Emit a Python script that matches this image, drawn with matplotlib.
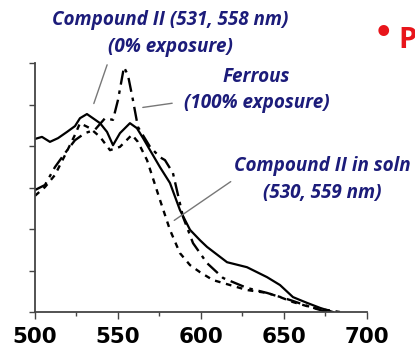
import matplotlib.pyplot as plt

# wavelength (nm) / absorbance (arb.)
wl_solid = [500, 504.2, 509, 513.9, 519.3, 524.1, 527.1, 531.3, 534.9, 539.2, 543.4, 547,
            551.2, 557.2, 561.4, 565.1, 569.3, 575.3, 581.3, 587.3, 593.4, 599.4, 603.6,
            615.7, 627.7, 639.8, 647.6, 655.4, 659.6, 663.9, 671.7, 679.5]
ab_solid = [4.17, 4.22, 4.10, 4.19, 4.34, 4.48, 4.67, 4.77, 4.67, 4.55, 4.34, 4.02,
            4.31, 4.55, 4.43, 4.19, 3.90, 3.49, 3.11, 2.46, 1.98, 1.73, 1.57,
            1.20, 1.08, 0.84, 0.65, 0.36, 0.29, 0.22, 0.10, 0.0]

wl_soln = [500, 506, 512, 518.1, 524.1, 527.1, 533.1, 539.2, 545.2, 551.2, 558.4, 562,
           567.5, 575.3, 581.3, 587.3, 593.4, 599.4, 607.2, 617.5, 627.7, 639.8, 647.6,
           655.4, 667.5, 683.7]
ab_soln = [2.80, 3.01, 3.30, 3.78, 4.27, 4.55, 4.43, 4.22, 3.90, 3.98, 4.27, 4.10,
           3.66, 2.70, 1.98, 1.42, 1.13, 0.96, 0.77, 0.65, 0.53, 0.46, 0.36,
           0.24, 0.10, 0.0]

wl_ferrous = [500, 506, 512, 518.1, 524.1, 530.1, 536.1, 542.2, 547, 550, 553.6, 556,
              559, 562, 569.3, 575.3, 578.3, 583.1, 589.2, 595.2, 603.6, 613.3, 627.7,
              639.8, 653.6, 667.5, 675.9]
ab_ferrous = [2.94, 3.06, 3.49, 3.83, 4.14, 4.31, 4.39, 4.67, 4.63, 5.11, 5.90, 5.71,
              5.11, 4.46, 3.98, 3.73, 3.66, 3.35, 2.29, 1.66, 1.18, 0.82, 0.58,
              0.46, 0.29, 0.10, 0.0]

xticks = [500, 550, 600, 650, 700]

navy = '#1c1c7a'
txt = dict(color=navy, fontsize=13.6, fontweight='bold', style='italic',
           family=['Open Sans', 'DejaVu Sans'], ha='center', va='center',
           annotation_clip=False)

fig = plt.figure(figsize=(4.15, 3.52), dpi=100)
ax = fig.add_axes([0.0843, 0.1136, 0.8, 0.7074])

ax.plot(wl_solid, ab_solid, color='black', lw=1.6, ls='-')
ax.plot(wl_soln, ab_soln, color='black', lw=1.7, ls=(0, (2.4, 2.4)))
ax.plot(wl_ferrous, ab_ferrous, color='black', lw=1.7, ls=(0, (6, 2.5, 1.5, 2.5)))

ax.set_xlim(500, 700)
ax.set_ylim(0, 6)
ax.set_xticks(xticks)
ax.set_xticks([525, 575, 625, 675], minor=True)
ax.set_yticks(range(7))
ax.set_yticklabels([])
for lab in ax.get_xticklabels():
    lab.set_fontweight('bold')
    lab.set_fontsize(15.5)
ax.tick_params(axis='x', which='major', length=5, width=1, pad=6, color='#444')
ax.tick_params(axis='x', which='minor', length=3, width=1, color='#444')
ax.tick_params(axis='y', length=4, width=1, color='#444')
for s in ['top', 'right']:
    ax.spines[s].set_visible(False)
for s in ['left', 'bottom']:
    ax.spines[s].set_color('#444')
    ax.spines[s].set_linewidth(1.3)

lead = dict(arrowstyle='-', color='#777777', lw=1)
ax.annotate('', xy=(534.9, 4.96), xytext=(544.0, 6.02), arrowprops=lead, annotation_clip=False)
ax.annotate('', xy=(563.3, 4.92), xytext=(584.3, 5.04), arrowprops=lead, annotation_clip=False)
ax.annotate('', xy=(582.5, 2.17), xytext=(619.3, 3.18), arrowprops=lead, annotation_clip=False)

ax.annotate('Compound II (531, 558 nm)', xy=(581.3, 7.03), **txt)
ax.annotate('(0% exposure)', xy=(581.3, 6.38), **txt)
ax.annotate('Ferrous', xy=(633.5, 5.66), **txt)
ax.annotate('(100% exposure)', xy=(633.5, 5.04), **txt)
ax.annotate('Compound II in soln', xy=(672.9, 3.52), **txt)
ax.annotate('(530, 559 nm)', xy=(672.9, 2.87), **txt)

# slide bullet in the top-right corner
fig.text(383 / 415, 1 - 33 / 352, '\u2022', color='#e8151b', fontsize=22,
         fontweight='bold', ha='center', va='center')
fig.text(398 / 415, 1 - 40 / 352, 'P', color='#e8151b', fontsize=21,
         fontweight='bold', ha='left', va='center', family=['Open Sans', 'DejaVu Sans'])

fig.savefig('out.png', dpi=100)
